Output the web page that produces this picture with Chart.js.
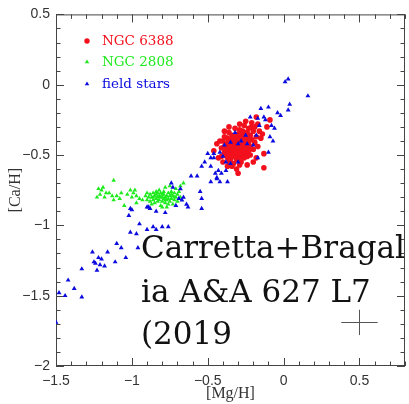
<!DOCTYPE html>
<html lang="en">
<head>
<meta charset="UTF-8">
<title>[Ca/H] vs [Mg/H]</title>
<script src="https://cdn.jsdelivr.net/npm/chart.js"></script>
<style>
  html, body { margin: 0; padding: 0; background: #fff; }
  #chart { display: block; }
</style>
</head>
<body>
<canvas id="chart" width="409" height="404"></canvas>
<script>
// [Mg/H], [Ca/H] pairs
const ngc6388 = [
  [-0.29,-0.28],[-0.18,-0.23],[-0.13,-0.49],[-0.18,-0.52],[-0.24,-0.57],[-0.30,-0.63],[-0.13,-0.59],
  [-0.29,-0.57],[-0.39,-0.33],[-0.09,-0.25],[-0.11,-0.30],[-0.25,-0.26],[-0.44,-0.42],[-0.46,-0.47],
  [-0.43,-0.52],[-0.21,-0.30],[-0.15,-0.38],[-0.36,-0.30],
  [-0.40,-0.40],[-0.39,-0.44],[-0.39,-0.48],[-0.38,-0.42],[-0.38,-0.46],[-0.38,-0.50],[-0.37,-0.38],
  [-0.37,-0.44],[-0.37,-0.52],[-0.36,-0.41],[-0.36,-0.47],[-0.36,-0.55],[-0.35,-0.39],[-0.35,-0.44],
  [-0.35,-0.49],[-0.35,-0.53],[-0.34,-0.36],[-0.34,-0.42],[-0.34,-0.46],[-0.34,-0.51],[-0.33,-0.40],
  [-0.33,-0.44],[-0.33,-0.48],[-0.33,-0.56],[-0.32,-0.37],[-0.32,-0.42],[-0.32,-0.46],[-0.32,-0.50],
  [-0.31,-0.39],[-0.31,-0.44],[-0.31,-0.53],[-0.30,-0.35],[-0.30,-0.41],[-0.30,-0.47],[-0.30,-0.50],
  [-0.29,-0.38],[-0.29,-0.43],[-0.29,-0.46],[-0.29,-0.52],[-0.28,-0.36],[-0.28,-0.41],[-0.28,-0.48],
  [-0.27,-0.33],[-0.27,-0.39],[-0.27,-0.44],[-0.27,-0.50],[-0.26,-0.37],[-0.26,-0.42],[-0.26,-0.46],
  [-0.25,-0.34],[-0.25,-0.40],[-0.25,-0.48],[-0.24,-0.38],[-0.24,-0.44],[-0.23,-0.31],[-0.23,-0.41],
  [-0.23,-0.47],[-0.22,-0.36],[-0.22,-0.44],[-0.21,-0.39],[-0.20,-0.33],[-0.20,-0.46],[-0.19,-0.41],
  [-0.18,-0.37],[-0.17,-0.44],[-0.16,-0.33],[-0.41,-0.45],[-0.41,-0.51],[-0.40,-0.55],[-0.39,-0.37],
  [-0.37,-0.58],[-0.34,-0.58],[-0.31,-0.60],[-0.28,-0.55],[-0.26,-0.52],[-0.24,-0.51],[-0.22,-0.50],
  [-0.20,-0.55],[-0.42,-0.40],[-0.36,-0.34],[-0.32,-0.31],[-0.29,-0.32],[-0.26,-0.29],[-0.24,-0.34],
  [-0.21,-0.27],[-0.19,-0.30],[-0.17,-0.28],[-0.14,-0.35]
];
const ngc2808 = [
  [-1.12,-0.68],[-1.22,-0.74],[-1.23,-0.80],[-1.20,-0.75],[-1.17,-0.77],[-1.15,-0.77],[-1.18,-0.80],
  [-1.13,-0.79],[-1.12,-0.82],[-1.08,-0.81],[-1.07,-0.77],[-1.05,-0.86],[-1.01,-0.75],[-0.99,-0.77],
  [-1.00,-0.80],[-0.97,-0.79],[-0.95,-0.81],[-0.97,-0.84],[-0.93,-0.82],[-0.90,-0.77],[-1.21,-0.78],
  [-1.19,-0.73],[-1.10,-0.79],[-1.03,-0.78],[-0.98,-0.75],
  [-0.89,-0.80],[-0.88,-0.78],[-0.88,-0.83],[-0.87,-0.80],[-0.86,-0.77],[-0.86,-0.82],[-0.85,-0.79],
  [-0.85,-0.84],[-0.84,-0.81],[-0.84,-0.78],[-0.83,-0.80],[-0.83,-0.83],[-0.82,-0.75],[-0.82,-0.79],
  [-0.82,-0.82],[-0.81,-0.86],[-0.81,-0.80],[-0.80,-0.78],[-0.80,-0.83],[-0.79,-0.81],[-0.79,-0.76],
  [-0.78,-0.80],[-0.78,-0.84],[-0.78,-0.73],[-0.77,-0.79],[-0.77,-0.82],[-0.76,-0.77],[-0.76,-0.81],
  [-0.76,-0.85],[-0.75,-0.72],[-0.75,-0.79],[-0.75,-0.83],[-0.74,-0.76],[-0.74,-0.81],[-0.73,-0.79],
  [-0.73,-0.85],[-0.72,-0.77],[-0.72,-0.82],[-0.71,-0.74],[-0.71,-0.80],[-0.70,-0.78],[-0.70,-0.83],
  [-0.69,-0.76],[-0.68,-0.72],[-0.68,-0.80],[-0.66,-0.70],[-0.87,-0.85],[-0.84,-0.76],[-0.80,-0.87],
  [-0.77,-0.87],[-0.79,-0.78],[-0.81,-0.77],[-0.83,-0.77],[-0.74,-0.78],[-0.72,-0.80],[-0.86,-0.80],
  [-0.90,-0.82],[-0.91,-0.79],[-0.80,-0.80],[-0.78,-0.82]
];
const fieldStars = [
  [-1.50,-1.69],[-1.48,-1.48],[-1.44,-1.50],[-1.42,-1.39],[-1.38,-1.45],[-1.33,-1.51],[-1.33,-1.31],
  [-1.26,-1.19],[-1.25,-1.26],[-1.24,-1.27],[-1.23,-1.32],[-1.22,-1.23],[-1.21,-1.28],[-1.20,-1.24],
  [-1.18,-1.29],[-1.16,-1.19],[-1.11,-1.26],[-1.10,-1.13],[-1.07,-1.16],[-1.04,-1.23],[-1.01,-1.05],
  [-0.97,-1.06],[-0.96,-1.16],[-0.95,-0.99],[-1.02,-0.93],[-1.00,-0.89],[-0.90,-0.87],[-0.84,-0.90],
  [-0.90,-1.03],[-0.86,-1.01],[-0.84,-1.03],[-0.80,-1.01],[-0.76,-1.01],
  [-0.78,-0.91],[-0.71,-0.86],[-0.63,-0.87],[-0.88,-0.88],[-0.54,-0.88],[-0.54,-0.81],[-0.55,-0.76],
  [-0.69,-0.81],[-0.67,-0.82],[-0.64,-0.85],[-0.68,-0.74],[-0.66,-0.80],[-1.01,-0.88],[-0.89,-0.87],
  [-0.74,-0.70],[-0.73,-0.73],[-0.61,-0.65],[-0.57,-0.65],[-0.54,-0.58],[-0.52,-0.55],[-0.50,-0.49],
  [-0.48,-0.58],[-0.46,-0.52],[-0.48,-0.69],[-0.44,-0.67],[-0.45,-0.63],[-0.42,-0.69],[-0.37,-0.69],
  [-0.44,-0.66],[-0.43,-0.61],[-0.48,-0.52],[-0.46,-0.49],[-0.42,-0.48],[-0.40,-0.51],[-0.38,-0.55],
  [-0.35,-0.56],[-0.39,-0.43],[-0.35,-0.41],[-0.32,-0.34],[-0.30,-0.42],[-0.28,-0.40],[-0.25,-0.36],
  [-0.16,-0.29],[-0.18,-0.36],[-0.20,-0.43],[-0.24,-0.42],[-0.30,-0.55],[-0.38,-0.61],[-0.41,-0.63],
  [0.01,0.02],[0.03,0.04],[0.16,-0.08],[0.04,-0.14],[0.03,-0.18],[-0.04,-0.20],[-0.02,-0.22],
  [-0.10,-0.16],[-0.15,-0.17],[-0.22,-0.23],[-0.17,-0.24],[-0.13,-0.23],[-0.12,-0.25],[-0.08,-0.29],
  [-0.06,-0.31],[-0.09,-0.37],[-0.07,-0.40],[-0.10,-0.48],[-0.17,-0.52]
];

const xTicks = [-1.5, -1, -0.5, 0, 0.5];
const yTicks = [-2, -1.5, -1, -0.5, 0, 0.5];
const seriesNames = ['NGC 6388', 'NGC 2808', 'field stars'];
const seriesColors = ['#f2101c', '#1eea1e', '#0b0be0'];
const noteLines = ['Carretta+Bragal', 'ia A&A 627 L7', '(2019'];
// typical error bar: centre and half widths
const errBar = { x: 0.5, y: -1.69, dx: 0.12, dy: 0.09 };

const toXY = arr => arr.map(p => ({ x: p[0], y: p[1] }));
const fmt = v => String(v).replace('-', '\u2212');

function marker(ctx, style, x, y, r) {
  ctx.beginPath();
  if (style === 'circle') {
    ctx.arc(x, y, r, 0, Math.PI * 2);
  } else {
    ctx.moveTo(x, y - r);
    ctx.lineTo(x + r * 0.866, y + r * 0.5);
    ctx.lineTo(x - r * 0.866, y + r * 0.5);
    ctx.closePath();
  }
  ctx.fill();
}

const decor = {
  id: 'decor',
  beforeDatasetsDraw(chart) {
    const { ctx, chartArea: a, scales: { x, y } } = chart;
    ctx.save();
    ctx.strokeStyle = '#444';
    ctx.lineWidth = 1;
    ctx.beginPath();
    for (let i = -15; i <= 8; i++) {
      const px = Math.round(x.getPixelForValue(i / 10)) + 0.5;
      const len = i % 5 === 0 ? 8 : 4.5;
      ctx.moveTo(px, a.bottom); ctx.lineTo(px, a.bottom - len);
      ctx.moveTo(px, a.top); ctx.lineTo(px, a.top + len);
    }
    for (let i = -20; i <= 5; i++) {
      const py = Math.round(y.getPixelForValue(i / 10)) + 0.5;
      const len = i % 5 === 0 ? 8 : 4.5;
      ctx.moveTo(a.left, py); ctx.lineTo(a.left + len, py);
      ctx.moveTo(a.right, py); ctx.lineTo(a.right - len, py);
    }
    ctx.stroke();
    ctx.strokeRect(a.left + 0.5, a.top + 0.5, a.right - a.left - 1, a.bottom - a.top - 1);
    ctx.restore();
  },
  afterDraw(chart) {
    const { ctx, scales: { x, y } } = chart;
    ctx.save();
    // legend
    const rows = [41, 62, 84];
    const styles = ['circle', 'triangle', 'triangle'];
    ctx.font = '13.5px "DejaVu Serif"';
    ctx.textBaseline = 'middle';
    seriesNames.forEach((name, i) => {
      ctx.fillStyle = seriesColors[i];
      marker(ctx, styles[i], 87, rows[i], i === 0 ? 2.7 : 2.6);
      ctx.fillText(name, 102, rows[i]);
    });
    // error cross
    ctx.strokeStyle = '#555';
    ctx.lineWidth = 1;
    const cx = x.getPixelForValue(errBar.x), cy = y.getPixelForValue(errBar.y);
    ctx.beginPath();
    ctx.moveTo(x.getPixelForValue(errBar.x - errBar.dx), Math.round(cy) + 0.5);
    ctx.lineTo(x.getPixelForValue(errBar.x + errBar.dx), Math.round(cy) + 0.5);
    ctx.moveTo(Math.round(cx) + 0.5, y.getPixelForValue(errBar.y + errBar.dy));
    ctx.lineTo(Math.round(cx) + 0.5, y.getPixelForValue(errBar.y - errBar.dy));
    ctx.stroke();
    // citation note
    ctx.fillStyle = '#111';
    ctx.font = '31px "DejaVu Serif"';
    ctx.textBaseline = 'alphabetic';
    const base = [258, 302, 344];
    noteLines.forEach((t, i) => ctx.fillText(t, 141, base[i]));
    ctx.restore();
  }
};

const tickFont = { family: '"Liberation Sans", Arial, sans-serif', size: 14 };
const titleFont = { family: '"Liberation Serif", serif', size: 16 };

new Chart(document.getElementById('chart'), {
  type: 'scatter',
  data: {
    datasets: [
      { label: seriesNames[2], data: toXY(fieldStars), pointStyle: 'triangle', pointRadius: 2.8,
        backgroundColor: seriesColors[2], borderWidth: 0 },
      { label: seriesNames[1], data: toXY(ngc2808), pointStyle: 'triangle', pointRadius: 2.6,
        backgroundColor: seriesColors[1], borderWidth: 0 },
      { label: seriesNames[0], data: toXY(ngc6388), pointStyle: 'circle', pointRadius: 2.8,
        backgroundColor: seriesColors[0], borderWidth: 0 }
    ]
  },
  options: {
    responsive: false,
    animation: false,
    devicePixelRatio: 1,
    layout: { padding: { top: 14, right: 1, left: 0, bottom: 0 } },
    plugins: { legend: { display: false }, tooltip: { enabled: false } },
    scales: {
      x: {
        type: 'linear', min: -1.5, max: 0.8,
        afterBuildTicks: s => { s.ticks = xTicks.map(v => ({ value: v })); },
        afterFit: s => { s.height = 38; },
        grid: { display: false, drawTicks: false },
        border: { display: false },
        ticks: { font: tickFont, color: '#333', padding: 7, maxRotation: 0, callback: fmt },
        title: { display: true, text: '[Mg/H]', font: titleFont, color: '#333', padding: { top: 0, bottom: 1 } }
      },
      y: {
        type: 'linear', min: -2, max: 0.5,
        afterBuildTicks: s => { s.ticks = yTicks.map(v => ({ value: v })); },
        afterFit: s => { s.width = 56; },
        grid: { display: false, drawTicks: false },
        border: { display: false },
        ticks: { font: tickFont, color: '#333', padding: 6, callback: fmt },
        title: { display: true, text: '[Ca/H]', font: titleFont, color: '#333', padding: { top: 6, bottom: 4 } }
      }
    }
  },
  plugins: [decor]
});
</script>
</body>
</html>
